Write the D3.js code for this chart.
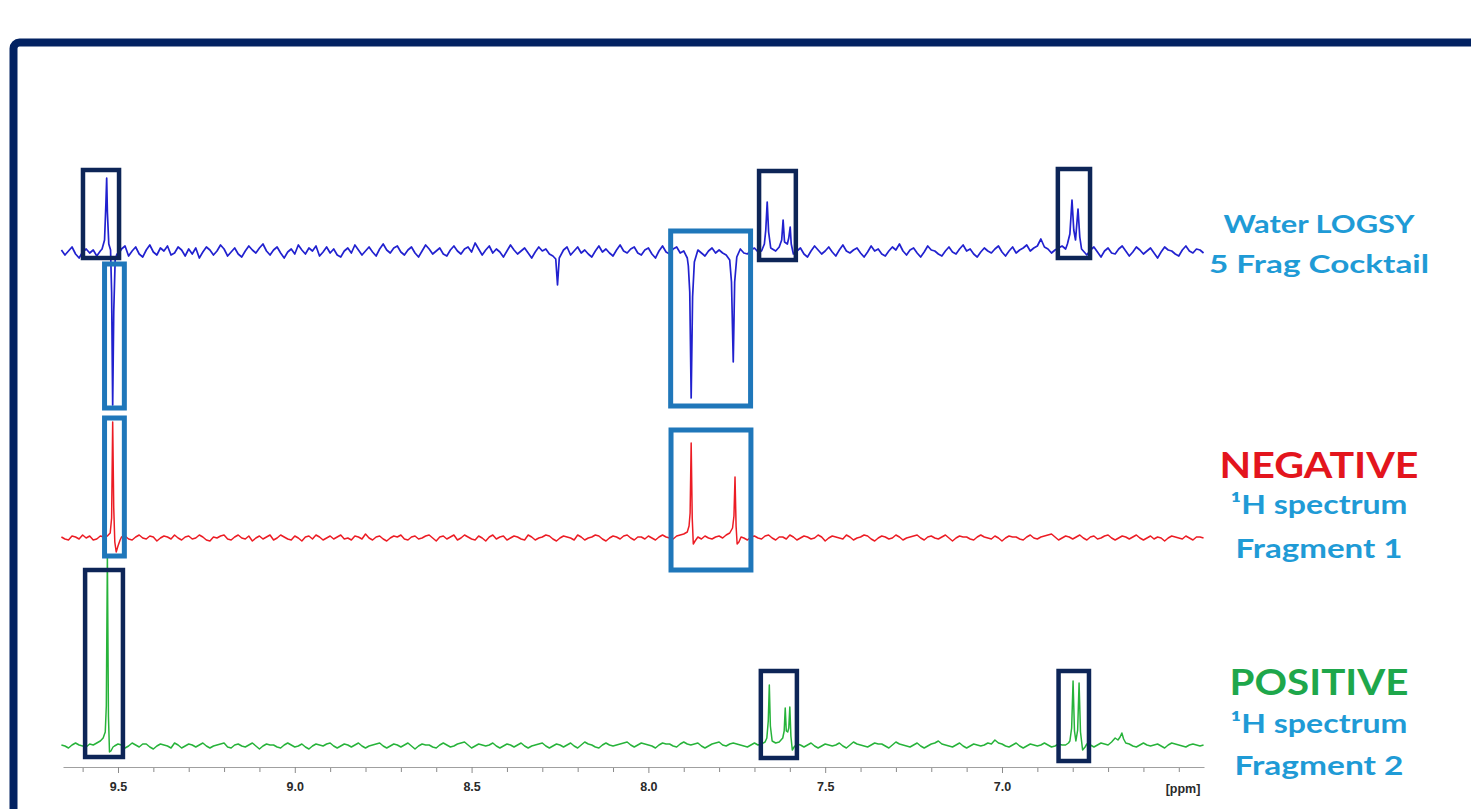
<!DOCTYPE html>
<html><head><meta charset="utf-8">
<script src="https://cdn.jsdelivr.net/npm/d3@7"></script>
<style>html,body{margin:0;padding:0;background:#fff;overflow:hidden}</style>
</head><body>
<svg id="chart" width="1471" height="809"></svg>
<script>
// ---------- DATA ----------
const majorTicks = [9.5, 9.0, 8.5, 8.0, 7.5, 7.0];
const minorTicks = [9.6,9.4,9.3,9.2,9.1,8.9,8.8,8.7,8.6,8.4,8.3,8.2,8.1,7.9,7.8,7.7,7.6,7.4,7.3,7.2,7.1,6.9,6.8,6.7,6.6,6.5];
const axisUnit = "[ppm]";

// [ppm, intensity] — Water LOGSY of the 5-fragment cocktail
const logsySpectrum = [[9.66,2],[9.65,-3],[9.64,1],[9.63,5],[9.62,-2],[9.61,-6],[9.60,0],[9.59,3],[9.58,-1],[9.57,2],[9.56,-4],[9.55,1],[9.545,3],[9.538,12],[9.534,50],[9.532,74],[9.530,40],[9.526,8],[9.521,2],[9.518,-40],[9.515,-153],[9.512,-60],[9.508,-8],[9.503,-2],[9.50,-3],[9.49,3],[9.48,6],[9.47,-4],[9.46,1],[9.45,5],[9.44,-2],[9.43,-5],[9.42,2],[9.41,7],[9.40,0],[9.39,-3],[9.38,4],[9.37,1],[9.36,6],[9.35,-3],[9.34,-1],[9.33,5],[9.32,2],[9.31,-4],[9.30,3],[9.29,-2],[9.28,4],[9.27,-6],[9.26,0],[9.25,5],[9.24,2],[9.23,-3],[9.22,1],[9.21,7],[9.20,3],[9.19,-4],[9.18,0],[9.17,4],[9.16,-2],[9.15,-5],[9.14,1],[9.13,6],[9.12,2],[9.11,-1],[9.10,4],[9.09,8],[9.08,1],[9.07,-3],[9.06,2],[9.05,5],[9.04,-1],[9.03,-6],[9.02,0],[9.01,3],[9.00,-2],[8.99,7],[8.98,2],[8.97,-2],[8.96,4],[8.95,1],[8.94,6],[8.93,-4],[8.92,0],[8.91,5],[8.90,-1],[8.89,3],[8.88,-3],[8.87,-5],[8.86,1],[8.85,4],[8.84,-1],[8.83,7],[8.82,2],[8.81,-3],[8.80,1],[8.79,5],[8.78,0],[8.77,-4],[8.76,3],[8.75,8],[8.74,2],[8.73,-1],[8.72,4],[8.71,6],[8.70,0],[8.69,-3],[8.68,2],[8.67,5],[8.66,-1],[8.65,-5],[8.64,1],[8.63,7],[8.62,3],[8.61,-2],[8.60,1],[8.59,4],[8.58,-2],[8.57,-4],[8.56,2],[8.55,6],[8.54,1],[8.53,-2],[8.52,3],[8.51,5],[8.50,0],[8.49,9],[8.48,3],[8.47,-3],[8.46,2],[8.45,6],[8.44,-1],[8.43,3],[8.42,0],[8.41,-5],[8.40,1],[8.39,7],[8.38,2],[8.37,-2],[8.36,1],[8.35,4],[8.34,-1],[8.33,-6],[8.32,0],[8.31,5],[8.30,1],[8.29,3],[8.28,-2],[8.27,-4],[8.262,-7],[8.257,-33],[8.252,-6],[8.24,2],[8.23,5],[8.22,-3],[8.21,1],[8.20,5],[8.19,-1],[8.18,2],[8.17,-2],[8.16,-5],[8.15,1],[8.14,6],[8.13,0],[8.12,3],[8.11,-1],[8.10,-4],[8.09,2],[8.08,7],[8.07,1],[8.06,-1],[8.05,3],[8.04,5],[8.03,-1],[8.02,-3],[8.01,2],[8.00,4],[7.99,-2],[7.98,-6],[7.97,1],[7.96,6],[7.95,0],[7.94,-2],[7.93,3],[7.92,5],[7.91,-1],[7.90,1],[7.89,-6],[7.887,-14],[7.883,-40],[7.879,-146],[7.875,-45],[7.870,-10],[7.86,2],[7.85,-1],[7.84,-4],[7.83,1],[7.82,4],[7.81,-1],[7.80,2],[7.79,-1],[7.78,-3],[7.77,-8],[7.765,-30],[7.760,-110],[7.756,-30],[7.750,-5],[7.74,3],[7.73,-1],[7.72,-2],[7.71,2],[7.70,4],[7.69,0],[7.68,1],[7.672,8],[7.668,22],[7.664,50],[7.660,20],[7.654,4],[7.64,1],[7.63,5],[7.623,12],[7.619,32],[7.615,10],[7.607,8],[7.603,14],[7.599,25],[7.596,8],[7.590,-2],[7.58,1],[7.57,4],[7.56,-2],[7.55,-5],[7.54,1],[7.53,6],[7.52,2],[7.51,-2],[7.50,1],[7.49,5],[7.48,0],[7.47,-4],[7.46,2],[7.45,7],[7.44,1],[7.43,-1],[7.42,2],[7.41,4],[7.40,-1],[7.39,-5],[7.38,0],[7.37,6],[7.36,1],[7.35,3],[7.34,-2],[7.33,-4],[7.32,1],[7.31,5],[7.30,2],[7.29,8],[7.28,1],[7.27,-3],[7.26,2],[7.25,4],[7.24,-1],[7.23,-5],[7.22,0],[7.21,6],[7.20,2],[7.19,1],[7.18,-2],[7.17,-4],[7.16,1],[7.15,5],[7.14,0],[7.13,-2],[7.12,3],[7.11,7],[7.10,1],[7.09,3],[7.08,-2],[7.07,-5],[7.06,0],[7.05,4],[7.04,1],[7.03,-1],[7.02,3],[7.01,6],[7.00,0],[6.99,-4],[6.98,1],[6.97,5],[6.96,-1],[6.95,2],[6.94,4],[6.93,7],[6.92,1],[6.91,4],[6.90,6],[6.89,13],[6.88,5],[6.87,3],[6.86,-1],[6.85,2],[6.84,4],[6.83,6],[6.82,3],[6.815,8],[6.808,18],[6.802,52],[6.797,22],[6.792,12],[6.785,43],[6.780,15],[6.775,3],[6.77,1],[6.76,-3],[6.75,2],[6.74,5],[6.73,0],[6.72,-5],[6.71,1],[6.70,4],[6.69,-1],[6.68,-2],[6.67,3],[6.66,6],[6.65,1],[6.64,-4],[6.63,0],[6.62,5],[6.61,2],[6.60,-2],[6.59,1],[6.58,4],[6.57,-1],[6.56,-6],[6.55,0],[6.54,5],[6.53,2],[6.52,1],[6.51,-2],[6.50,-4],[6.49,2],[6.48,6],[6.47,1],[6.46,-1],[6.45,3],[6.44,2],[6.43,-1]];

// [ppm, intensity] — 1H spectrum, Fragment 1 (negative)
const negativeSpectrum = [[9.66,1],[9.65,-1],[9.64,-2],[9.63,2],[9.62,1],[9.61,-1],[9.60,3],[9.59,0],[9.58,2],[9.57,-2],[9.56,-1],[9.55,2],[9.54,1],[9.53,2],[9.522,5],[9.518,20],[9.515,116],[9.512,30],[9.509,-4],[9.505,-14],[9.500,-8],[9.494,-2],[9.49,1],[9.48,2],[9.47,-1],[9.46,-2],[9.45,1],[9.44,3],[9.43,0],[9.42,-1],[9.41,2],[9.40,1],[9.39,-3],[9.38,0],[9.37,2],[9.36,1],[9.35,-1],[9.34,3],[9.33,0],[9.32,-2],[9.31,1],[9.30,2],[9.29,-1],[9.28,0],[9.27,3],[9.26,1],[9.25,-2],[9.24,-3],[9.23,1],[9.22,0],[9.21,2],[9.20,3],[9.19,-1],[9.18,-2],[9.17,1],[9.16,3],[9.15,0],[9.14,-1],[9.13,2],[9.12,-3],[9.11,0],[9.10,2],[9.09,-1],[9.08,1],[9.07,3],[9.06,-2],[9.05,0],[9.04,3],[9.03,1],[9.02,-1],[9.01,-2],[9.00,2],[8.99,0],[8.98,-3],[8.97,1],[8.96,2],[8.95,-1],[8.94,3],[8.93,1],[8.92,-2],[8.91,0],[8.90,2],[8.89,-1],[8.88,1],[8.87,3],[8.86,-1],[8.85,0],[8.84,-2],[8.83,2],[8.82,1],[8.81,-1],[8.80,4],[8.79,0],[8.78,-2],[8.77,1],[8.76,2],[8.75,-1],[8.74,-3],[8.73,0],[8.72,2],[8.71,1],[8.70,3],[8.69,-1],[8.68,-2],[8.67,1],[8.66,2],[8.65,-1],[8.64,0],[8.63,2],[8.62,3],[8.61,0],[8.60,-3],[8.59,1],[8.58,2],[8.57,-1],[8.56,1],[8.55,3],[8.54,-2],[8.53,0],[8.52,3],[8.51,1],[8.50,-1],[8.49,-2],[8.48,2],[8.47,0],[8.46,-3],[8.45,1],[8.44,3],[8.43,-1],[8.42,1],[8.41,2],[8.40,-2],[8.39,0],[8.38,2],[8.37,1],[8.36,-1],[8.35,-2],[8.34,3],[8.33,1],[8.32,-2],[8.31,0],[8.30,1],[8.29,3],[8.28,2],[8.27,-1],[8.26,-3],[8.25,0],[8.24,2],[8.23,1],[8.22,0],[8.21,-2],[8.20,3],[8.19,1],[8.18,-2],[8.17,0],[8.16,1],[8.15,3],[8.14,2],[8.13,-1],[8.12,-3],[8.11,0],[8.10,2],[8.09,1],[8.08,-1],[8.07,2],[8.06,3],[8.05,0],[8.04,-2],[8.03,1],[8.02,1],[8.01,-1],[8.00,2],[7.99,0],[7.98,-2],[7.97,1],[7.96,3],[7.95,1],[7.94,0],[7.93,-1],[7.92,2],[7.91,3],[7.90,4],[7.89,6],[7.885,12],[7.882,25],[7.879,95],[7.876,20],[7.873,-6],[7.868,-3],[7.86,1],[7.85,-1],[7.84,2],[7.83,0],[7.82,-1],[7.81,1],[7.80,2],[7.79,0],[7.78,3],[7.77,5],[7.762,10],[7.758,22],[7.755,61],[7.752,12],[7.749,-6],[7.744,-4],[7.738,1],[7.73,0],[7.72,-2],[7.71,1],[7.70,2],[7.69,0],[7.68,-1],[7.67,2],[7.66,3],[7.65,0],[7.64,-2],[7.63,1],[7.62,1],[7.61,-1],[7.60,3],[7.59,1],[7.58,-2],[7.57,0],[7.56,2],[7.55,1],[7.54,-1],[7.53,0],[7.52,3],[7.51,1],[7.50,-3],[7.49,0],[7.48,2],[7.47,1],[7.46,0],[7.45,-1],[7.44,3],[7.43,1],[7.42,-2],[7.41,0],[7.40,1],[7.39,3],[7.38,2],[7.37,-1],[7.36,-3],[7.35,0],[7.34,2],[7.33,1],[7.32,-1],[7.31,0],[7.30,3],[7.29,1],[7.28,-2],[7.27,0],[7.26,1],[7.25,2],[7.24,3],[7.23,0],[7.22,-2],[7.21,1],[7.20,2],[7.19,0],[7.18,-1],[7.17,1],[7.16,3],[7.15,0],[7.14,-3],[7.13,0],[7.12,2],[7.11,1],[7.10,1],[7.09,-1],[7.08,-2],[7.07,1],[7.06,3],[7.05,1],[7.04,0],[7.03,-1],[7.02,2],[7.01,0],[7.00,-3],[6.99,0],[6.98,2],[6.97,1],[6.96,1],[6.95,-1],[6.94,-2],[6.93,1],[6.92,3],[6.91,0],[6.90,-1],[6.89,1],[6.88,2],[6.87,3],[6.86,4],[6.85,1],[6.84,-2],[6.83,0],[6.82,2],[6.81,1],[6.80,-1],[6.79,1],[6.78,3],[6.77,0],[6.76,-2],[6.75,1],[6.74,2],[6.73,-1],[6.72,0],[6.71,2],[6.70,3],[6.69,0],[6.68,-2],[6.67,0],[6.66,2],[6.65,1],[6.64,-1],[6.63,1],[6.62,3],[6.61,0],[6.60,-2],[6.59,0],[6.58,2],[6.57,-1],[6.56,1],[6.55,0],[6.54,-3],[6.53,0],[6.52,2],[6.51,1],[6.50,0],[6.49,-1],[6.48,2],[6.47,0],[6.46,-2],[6.45,1],[6.44,1],[6.43,0]];

// [ppm, intensity] — 1H spectrum, Fragment 2 (positive)
const positiveSpectrum = [[9.66,1],[9.65,0],[9.64,-2],[9.63,1],[9.62,3],[9.61,1],[9.60,0],[9.59,-1],[9.58,2],[9.57,1],[9.56,3],[9.55,5],[9.542,8],[9.536,14],[9.533,40],[9.530,190],[9.527,30],[9.524,-6],[9.520,-5],[9.514,-1],[9.51,0],[9.50,2],[9.49,1],[9.48,-2],[9.47,0],[9.46,3],[9.45,1],[9.44,-1],[9.43,2],[9.42,2],[9.41,-1],[9.40,-3],[9.39,0],[9.38,2],[9.37,1],[9.36,0],[9.35,-2],[9.34,3],[9.33,1],[9.32,-2],[9.31,0],[9.30,2],[9.29,1],[9.28,-1],[9.27,1],[9.26,3],[9.25,0],[9.24,-2],[9.23,0],[9.22,1],[9.21,2],[9.20,3],[9.19,-1],[9.18,-2],[9.17,1],[9.16,2],[9.15,0],[9.14,-1],[9.13,1],[9.12,3],[9.11,0],[9.10,-3],[9.09,0],[9.08,2],[9.07,1],[9.06,1],[9.05,-1],[9.04,-2],[9.03,1],[9.02,3],[9.01,1],[9.00,-1],[8.99,0],[8.98,2],[8.97,-1],[8.96,-3],[8.95,0],[8.94,2],[8.93,1],[8.92,0],[8.91,2],[8.90,3],[8.89,0],[8.88,-2],[8.87,0],[8.86,2],[8.85,1],[8.84,-1],[8.83,1],[8.82,3],[8.81,0],[8.80,-2],[8.79,0],[8.78,1],[8.77,2],[8.76,3],[8.75,0],[8.74,-2],[8.73,0],[8.72,2],[8.71,1],[8.70,-1],[8.69,1],[8.68,3],[8.67,0],[8.66,-3],[8.65,0],[8.64,2],[8.63,1],[8.62,1],[8.61,-1],[8.60,-2],[8.59,1],[8.58,3],[8.57,1],[8.56,-1],[8.55,0],[8.54,2],[8.53,3],[8.52,4],[8.51,1],[8.50,-2],[8.49,0],[8.48,2],[8.47,1],[8.46,0],[8.45,1],[8.44,3],[8.43,0],[8.42,-2],[8.41,0],[8.40,2],[8.39,1],[8.38,-1],[8.37,1],[8.36,3],[8.35,0],[8.34,-2],[8.33,0],[8.32,1],[8.31,2],[8.30,3],[8.29,0],[8.28,-2],[8.27,0],[8.26,2],[8.25,1],[8.24,-1],[8.23,1],[8.22,3],[8.21,0],[8.20,-2],[8.19,1],[8.18,4],[8.17,2],[8.16,1],[8.15,-1],[8.14,-2],[8.13,1],[8.12,3],[8.11,1],[8.10,0],[8.09,1],[8.08,2],[8.07,3],[8.06,4],[8.05,1],[8.04,-1],[8.03,1],[8.02,3],[8.01,2],[8.00,1],[7.99,0],[7.98,-2],[7.97,1],[7.96,3],[7.95,2],[7.94,2],[7.93,0],[7.92,-1],[7.91,2],[7.90,4],[7.89,2],[7.88,1],[7.87,2],[7.86,3],[7.85,0],[7.84,-2],[7.83,0],[7.82,2],[7.81,3],[7.80,4],[7.79,1],[7.78,0],[7.77,2],[7.76,3],[7.75,2],[7.74,1],[7.73,0],[7.72,-1],[7.71,1],[7.70,3],[7.69,1],[7.68,2],[7.67,4],[7.665,8],[7.661,25],[7.658,61],[7.655,20],[7.650,5],[7.640,3],[7.630,4],[7.620,8],[7.616,15],[7.613,38],[7.610,15],[7.606,14],[7.603,18],[7.600,39],[7.597,10],[7.593,-4],[7.588,-1],[7.58,2],[7.57,1],[7.56,-1],[7.55,1],[7.54,3],[7.53,0],[7.52,-2],[7.51,0],[7.50,2],[7.49,1],[7.48,0],[7.47,1],[7.46,3],[7.45,0],[7.44,-2],[7.43,1],[7.42,4],[7.41,2],[7.40,1],[7.39,0],[7.38,-1],[7.37,1],[7.36,3],[7.35,2],[7.34,2],[7.33,0],[7.32,-2],[7.31,1],[7.30,4],[7.29,2],[7.28,1],[7.27,0],[7.26,-1],[7.25,1],[7.24,3],[7.23,0],[7.22,-2],[7.21,0],[7.20,2],[7.19,3],[7.18,5],[7.17,2],[7.16,1],[7.15,0],[7.14,-1],[7.13,1],[7.12,3],[7.11,0],[7.10,-2],[7.09,0],[7.08,2],[7.07,1],[7.06,0],[7.05,1],[7.04,3],[7.03,2],[7.02,6],[7.01,3],[7.00,2],[6.99,0],[6.98,-1],[6.97,1],[6.96,3],[6.95,0],[6.94,-2],[6.93,0],[6.92,2],[6.91,1],[6.90,0],[6.89,1],[6.88,3],[6.87,1],[6.86,-1],[6.85,0],[6.84,2],[6.83,1],[6.82,1],[6.812,3],[6.808,5],[6.803,18],[6.799,65],[6.795,15],[6.791,5],[6.786,16],[6.782,63],[6.778,14],[6.772,-4],[6.765,-1],[6.76,2],[6.75,1],[6.74,-1],[6.73,1],[6.72,3],[6.71,2],[6.70,1],[6.69,4],[6.680,8],[6.672,6],[6.666,9],[6.661,13],[6.656,7],[6.650,3],[6.64,2],[6.63,0],[6.62,-1],[6.61,1],[6.60,3],[6.59,1],[6.58,0],[6.57,1],[6.56,2],[6.55,0],[6.54,-2],[6.53,1],[6.52,3],[6.51,2],[6.50,1],[6.49,0],[6.48,-1],[6.47,1],[6.46,2],[6.45,1],[6.44,0],[6.43,1]];

// Text beside each trace
const logsyLabel = ["Water LOGSY", "5 Frag Cocktail"];
const negativeLabel = ["NEGATIVE", "\u00B9H spectrum", "Fragment 1"];
const positiveLabel = ["POSITIVE", "\u00B9H spectrum", "Fragment 2"];

// Highlight boxes: trace, ppm from, ppm to, intensity top, intensity bottom, kind
const highlightTrace = ["logsy","logsy","logsy","logsy","logsy","negative","negative","positive","positive","positive"];
const highlightFrom  = [9.599, 9.538, 7.937, 7.687, 6.842, 9.538, 7.936, 9.593, 7.682, 6.840];
const highlightTo    = [9.497, 9.482, 7.711, 7.583, 6.751, 9.482, 7.710, 9.486, 7.580, 6.754];
const highlightTop   = [82, -12, 21, 81, 83, 120, 108, 176, 75, 75];
const highlightBot   = [-6, -156, -154, -8, -6, -18, -32, -11, -12, -15];
const highlightKind  = ["match","mismatch","mismatch","match","match","mismatch","mismatch","match","match","match"];

// ---------- LAYOUT ----------
const svg = d3.select("#chart");
const W = 1471, H = 809;
svg.append("rect").attr("width", W).attr("height", H).attr("fill", "#fff");

// outer navy frame
svg.append("rect").attr("x", 13.5).attr("y", 42.5).attr("width", 1500).attr("height", 900)
  .attr("rx", 6).attr("fill", "none").attr("stroke", "#022262").attr("stroke-width", 8);

const x = d3.scaleLinear().domain([9.6555, 6.4287]).range([63, 1204]);
const baselines = {logsy: 252, negative: 538, positive: 746};
const yScales = {};
for (const k in baselines) {
  yScales[k] = d3.scaleLinear().domain([-200, 200]).range([baselines[k] + 200, baselines[k] - 200]);
}
const colors = {logsy: "#2121cf", negative: "#ec1c24", positive: "#27b33a"};
const widths = {logsy: 1.7, negative: 1.5, positive: 1.5};
const series = {logsy: logsySpectrum, negative: negativeSpectrum, positive: positiveSpectrum};

for (const k of ["positive", "negative", "logsy"]) {
  const line = d3.line().x(d => x(d[0])).y(d => yScales[k](d[1]));
  svg.append("path").datum(series[k]).attr("d", line)
    .attr("fill", "none").attr("stroke", colors[k]).attr("stroke-width", widths[k])
    .attr("stroke-linejoin", "round");
}

// boxes
const boxColor = {match: "#0d2557", mismatch: "#1f77ba"};
const boxStroke = {match: 4.5, mismatch: 5};
highlightTrace.forEach((t, i) => {
  const ys = yScales[t];
  const x0 = x(highlightFrom[i]), x1 = x(highlightTo[i]);
  const y0 = ys(highlightTop[i]), y1 = ys(highlightBot[i]);
  svg.append("rect").attr("x", x0).attr("y", y0).attr("width", x1 - x0).attr("height", y1 - y0)
    .attr("fill", "none").attr("stroke", boxColor[highlightKind[i]])
    .attr("stroke-width", boxStroke[highlightKind[i]]);
});

// axis
const axisY = 767;
const gAxis = svg.append("g").attr("transform", `translate(0,${axisY})`);
gAxis.call(d3.axisBottom(x).tickValues(minorTicks).tickFormat("").tickSize(5).tickSizeOuter(0));
gAxis.call(g => g.select(".domain").remove());
const gMajor = svg.append("g").attr("transform", `translate(0,${axisY})`);
gMajor.call(d3.axisBottom(x).tickValues(majorTicks).tickFormat(d3.format(".1f")).tickSize(6).tickPadding(9).tickSizeOuter(0));
svg.selectAll(".domain").attr("stroke", "#a0a0a0").attr("stroke-width", 1.2);
svg.selectAll(".tick line").attr("stroke", "#8a8a8a").attr("stroke-width", 1);
gMajor.selectAll(".tick text").attr("font-family", "Liberation Sans, Arial, sans-serif")
  .attr("font-size", 12.5).attr("font-weight", "bold").attr("fill", "#2a2a2a");
svg.append("text").attr("x", 1183).attr("y", axisY + 26).attr("text-anchor", "middle")
  .attr("font-family", "Liberation Sans, Arial, sans-serif").attr("font-size", 12.5)
  .attr("font-weight", "bold").attr("fill", "#2a2a2a").text(axisUnit);

// labels
const cx = 1319;
const lightBlue = "#1f9bd6";
function addLine(txt, y, size, color, len) {
  svg.append("text").attr("x", cx).attr("y", y).attr("text-anchor", "middle")
    .attr("font-family", "Lato, 'Open Sans', sans-serif").attr("font-weight", "bold")
    .attr("font-size", size).attr("fill", color)
    .attr("textLength", len).attr("lengthAdjust", "spacingAndGlyphs").text(txt);
}
addLine(logsyLabel[0], 233, 25, lightBlue, 191);
addLine(logsyLabel[1], 273, 25, lightBlue, 220);
addLine(negativeLabel[0], 478, 36, "#e3151d", 199);
addLine(negativeLabel[1], 514, 26, lightBlue, 177);
addLine(negativeLabel[2], 558, 26, lightBlue, 167);
addLine(positiveLabel[0], 695, 37, "#1ea74b", 179);
addLine(positiveLabel[1], 733, 26, lightBlue, 177);
addLine(positiveLabel[2], 775, 26, lightBlue, 169);
</script>
</body></html>
